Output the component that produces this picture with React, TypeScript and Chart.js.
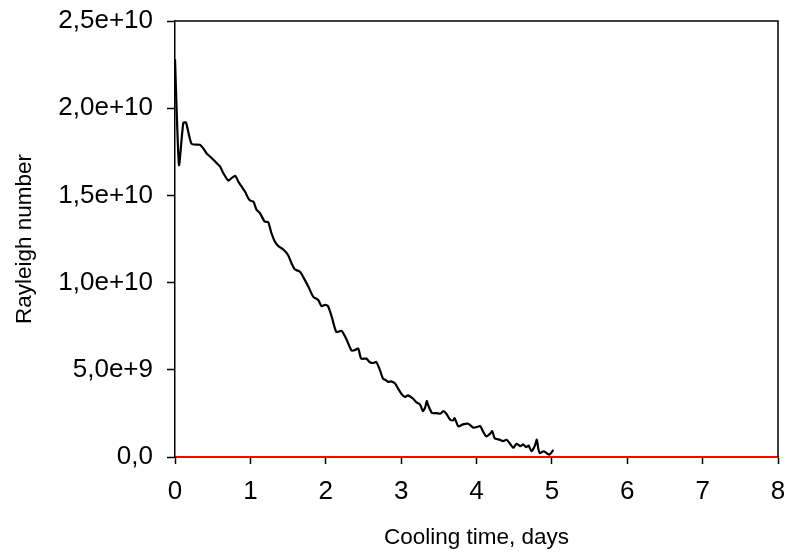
import React, { useEffect, useRef } from "react";
import { Chart, registerables } from "chart.js";

Chart.register(...registerables);

// Cooling time (days)
const days = [
  0, 0.053, 0.11, 0.146, 0.22, 0.33, 0.375, 0.42, 0.487, 0.553,
  0.597, 0.64, 0.707, 0.75, 0.8, 0.84, 0.885, 0.928, 0.972, 1.0,
  1.04, 1.083, 1.127, 1.19, 1.237, 1.28, 1.326, 1.37, 1.437, 1.5,
  1.547, 1.59, 1.658, 1.7, 1.77, 1.835, 1.9, 1.945, 1.99, 2.03,
  2.08, 2.14, 2.21, 2.27, 2.34, 2.38, 2.43, 2.47, 2.54, 2.58,
  2.63, 2.67, 2.72, 2.76, 2.8, 2.83, 2.87, 2.92, 2.96, 3.01,
  3.05, 3.09, 3.16, 3.2, 3.25, 3.29, 3.32, 3.34, 3.36, 3.41,
  3.47, 3.52, 3.56, 3.6, 3.65, 3.69, 3.71, 3.76, 3.82, 3.89,
  3.96, 4.0, 4.05, 4.09, 4.13, 4.18, 4.21, 4.24, 4.31, 4.35,
  4.4, 4.44, 4.49, 4.53, 4.58, 4.62, 4.66, 4.69, 4.73, 4.77,
  4.8, 4.82, 4.84, 4.89, 4.93, 4.97, 5.02,
];

// Rayleigh number, in units of 1e9
const rayleighE9 = [
  22.8, 16.75, 19.15, 19.18, 17.96, 17.9, 17.7, 17.4, 17.14, 16.85,
  16.66, 16.28, 15.85, 15.99, 16.12, 15.79, 15.5, 15.22, 14.84, 14.7,
  14.64, 14.17, 13.98, 13.5, 13.46, 12.83, 12.34, 12.1, 11.9, 11.58,
  11.1, 10.76, 10.62, 10.33, 9.76, 9.18, 9.0, 8.65, 8.72, 8.65,
  8.03, 7.17, 7.23, 6.79, 6.12, 6.12, 6.22, 5.64, 5.64, 5.45,
  5.39, 5.45, 4.97, 4.49, 4.4, 4.3, 4.34, 4.21, 3.92, 3.59,
  3.44, 3.53, 3.34, 3.15, 3.02, 2.63, 2.86, 3.21, 2.96, 2.52,
  2.52, 2.48, 2.63, 2.48, 2.14, 2.1, 2.23, 1.75, 1.87, 1.91,
  1.68, 1.71, 1.77, 1.43, 1.18, 1.33, 1.48, 1.08, 0.99, 0.91,
  0.99, 0.79, 0.53, 0.76, 0.62, 0.72, 0.56, 0.66, 0.33, 0.6,
  0.99, 0.47, 0.22, 0.33, 0.22, 0.14, 0.41,
];

const xMin = 0;
const xMax = 8;
const xStep = 1;
const yMin = 0;
const yMax = 2.5e10;
const yStep = 5e9;
const yTickLabels = ["0,0", "5,0e+9", "1,0e+10", "1,5e+10", "2,0e+10", "2,5e+10"];
const xTitle = "Cooling time, days";
const yTitle = "Rayleigh number";

const FONT = "'Liberation Sans', Arial, sans-serif";

const framePlugin = {
  id: "frame",
  afterDraw(chart: any) {
    const { ctx, chartArea } = chart;
    const { left, right, top, bottom } = chartArea;
    ctx.save();
    ctx.strokeStyle = "#000";
    ctx.lineWidth = 1.5;
    ctx.beginPath();
    ctx.moveTo(left, top);
    ctx.lineTo(right, top);
    ctx.lineTo(right, bottom);
    ctx.stroke();
    ctx.restore();
  },
};

export default function App() {
  const canvasRef = useRef<HTMLCanvasElement | null>(null);

  useEffect(() => {
    const canvas = canvasRef.current;
    if (!canvas) return;
    const points = days.map((d, i) => ({ x: d, y: rayleighE9[i] * 1e9 }));
    const chart = new Chart(canvas, {
      type: "line",
      data: {
        datasets: [
          {
            data: points,
            borderColor: "#000",
            borderWidth: 2.2,
            pointRadius: 0,
            tension: 0.2,
            fill: false,
          },
        ],
      },
      plugins: [framePlugin],
      options: {
        animation: false,
        responsive: false,
        devicePixelRatio: 1,
        layout: { padding: { top: 21, right: 9, left: 0, bottom: 0 } },
        plugins: {
          legend: { display: false },
          tooltip: { enabled: false },
        },
        scales: {
          x: {
            type: "linear",
            min: xMin,
            max: xMax,
            afterFit: (scale: any) => {
              scale.height = 98;
              scale.paddingLeft = 0;
              scale.paddingRight = 0;
            },
            ticks: {
              stepSize: xStep,
              color: "#000",
              font: { family: FONT, size: 26 },
              padding: 12,
              maxRotation: 0,
            },
            grid: {
              drawOnChartArea: false,
              drawTicks: true,
              tickLength: 7,
              tickColor: "#000",
              tickWidth: 1.5,
            },
            border: { color: "#ff0000", width: 2 },
            title: {
              display: true,
              text: xTitle,
              color: "#000",
              font: { family: FONT, size: 22.5 },
              padding: { top: 4, bottom: 4 },
            },
          },
          y: {
            type: "linear",
            min: yMin,
            max: yMax,
            afterFit: (scale: any) => {
              scale.width = 175;
              scale.paddingTop = 0;
              scale.paddingBottom = 0;
            },
            ticks: {
              stepSize: yStep,
              color: "#000",
              font: { family: FONT, size: 26 },
              padding: 14,
              callback: (v: any) => yTickLabels[Math.round(Number(v) / yStep)],
            },
            grid: {
              drawOnChartArea: false,
              drawTicks: true,
              tickLength: 8,
              tickColor: "#000",
              tickWidth: 1.5,
            },
            border: { color: "#000", width: 1.5 },
            title: {
              display: true,
              text: yTitle,
              color: "#000",
              font: { family: FONT, size: 22.5 },
              padding: { top: 11, bottom: 11 },
            },
          },
        },
      },
    });
    return () => chart.destroy();
  }, []);

  return (
    <div style={{ position: "fixed", left: 0, top: 0, width: 787, height: 555, background: "#fff" }}>
      <canvas ref={canvasRef} width={787} height={555} style={{ width: 787, height: 555, display: "block" }} />
    </div>
  );
}
